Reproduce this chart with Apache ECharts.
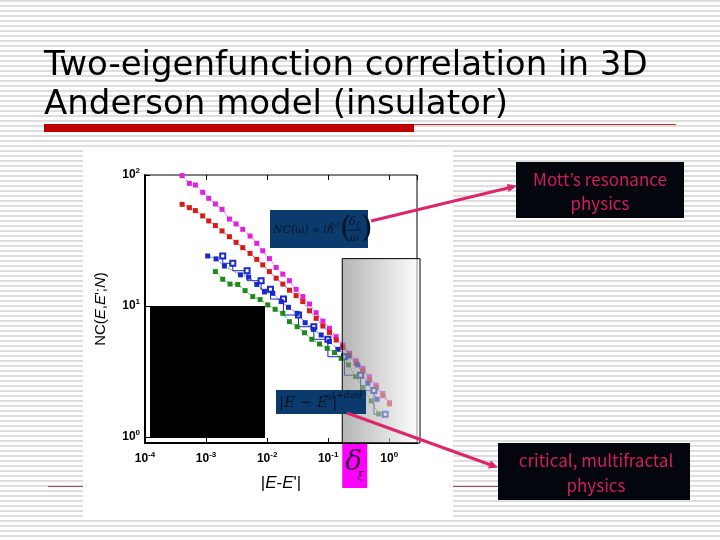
<!DOCTYPE html>
<html><head><meta charset="utf-8">
<script src="https://cdn.jsdelivr.net/npm/echarts@6/dist/echarts.min.js"></script>
<style>html,body{margin:0;padding:0;background:#fff}#c{width:720px;height:540px}</style>
</head><body><div id="c"></div>
<script>
// ---- data ----
const energyX = [4.05e-4, 5.33e-4, 6.68e-4, 8.81e-4, 1.107e-3, 1.422e-3, 1.828e-3, 2.415e-3, 3.105e-3, 3.99e-3, 5.26e-3, 6.78e-3, 8.49e-3, 0.01091, 0.01406, 0.01807, 0.02323, 0.02985, 0.03846, 0.04943, 0.06353, 0.08185, 0.1052, 0.1352, 0.1738, 0.2239, 0.2877, 0.3698, 0.4764, 0.6124, 0.787, 1.012];
const magentaY = [98.9, 86.3, 83.9, 73.8, 66.4, 60.1, 54.7, 46.1, 42.3, 38.5, 34.2, 30.1, 26.4, 23.0, 19.7, 17.5, 15.6, 13.4, 11.8, 10.35, 8.89, 7.67, 6.76, 5.83, 5.04, 4.36, 3.83, 3.34, 2.89, 2.49, 2.15, 1.83];
const redY = [59.7, 56.3, 53.5, 48.7, 44.6, 41.1, 37.4, 33.8, 30.6, 27.9, 25.2, 22.7, 20.6, 18.3, 16.3, 14.7, 13.2, 12.0, 10.8, 9.2, 8.05, 7.03, 6.29, 5.50, 4.83, 4.22, 3.65, 3.21, 2.72, 2.39, 2.07, 1.79];
const blueFilledX = [1.064e-3, 1.459e-3, 2.0e-3, 3.66e-3, 5.0e-3, 6.77e-3, 9.04e-3, 0.0124, 0.0170, 0.0224, 0.0310, 0.0420, 0.0575, 0.0768, 0.105, 0.144, 0.210, 0.306, 0.447, 0.635];
const blueFilledY = [24.1, 22.9, 20.2, 17.3, 16.6, 14.6, 12.8, 12.5, 10.8, 9.77, 8.79, 7.46, 6.63, 6.01, 5.35, 4.67, 4.15, 3.55, 2.57, 1.94];
const blueOpenX = [1.875e-3, 2.74e-3, 4.70e-3, 7.98e-3, 0.01135, 0.01853, 0.0327, 0.0582, 0.0989, 0.185, 0.339, 0.561, 0.859];
const blueOpenY = [24.1, 21.2, 18.6, 15.6, 13.4, 11.3, 8.53, 6.95, 5.57, 4.10, 2.96, 2.26, 1.49];
const greenX = [1.422e-3, 1.875e-3, 2.47e-3, 3.30e-3, 4.36e-3, 5.82e-3, 7.68e-3, 0.01025, 0.01352, 0.01807, 0.02323, 0.0310, 0.0409, 0.0540, 0.0721, 0.0964, 0.127, 0.163, 0.215, 0.281, 0.370, 0.507, 0.668];
const greenY = [18.3, 16.0, 14.7, 14.6, 13.1, 11.8, 11.2, 10.2, 9.44, 8.79, 7.59, 6.95, 6.25, 5.57, 5.13, 4.75, 4.41, 3.99, 3.55, 2.89, 2.39, 1.89, 1.50];
const deltaXi = 0.17;      // left edge of shaded crossover region
const shadeTop = 23;       // top of shaded region (NC value)
const xRange = [1e-4, 2.85];
const yRange = [0.9, 100];

const titleLines = ['Two-eigenfunction correlation in 3D', 'Anderson model (insulator)'];
const mottText = ['Mott\u2019s resonance', 'physics'];
const critText = ['critical, multifractal', 'physics'];

// ---- page ----
const zip = (xs, ys) => xs.map((x, i) => [x, ys[i]]);
const pat = document.createElement('canvas'); pat.width = 4; pat.height = 5;
const pc = pat.getContext('2d'); pc.fillStyle = '#ffffff'; pc.fillRect(0, 0, 4, 5);
pc.fillStyle = '#dedede'; pc.fillRect(0, 0, 4, 2);

const G = {left: 145, top: 175, width: 272, height: 268};
const tickFmt = v => {
  const e = Math.round(Math.log10(v));
  if (Math.abs(Math.log10(v) - e) > 1e-6) return '';
  return '{b|10}{s|' + e + '}';
};
const tickRich = {
  b: {fontFamily: 'Liberation Sans', fontSize: 12, fontWeight: 'bold', color: '#000'},
  s: {fontFamily: 'Liberation Sans', fontSize: 8, fontWeight: 'bold', color: '#000', padding: [0, 0, 8, 0]}
};
const mk = (name, data, color, extra) => Object.assign({
  type: 'line', name, data, symbol: 'rect', symbolSize: 5,
  itemStyle: {color}, lineStyle: {type: 'dotted', width: 1, color}, z: 3, animation: false
}, extra || {});

const chart = echarts.init(document.getElementById('c'), null, {renderer: 'canvas'});
const option = {
  animation: false,
  backgroundColor: {image: pat, repeat: 'repeat'},
  grid: {left: G.left, top: G.top, width: G.width, height: G.height, show: true, borderColor: '#000', borderWidth: 1, backgroundColor: 'transparent'},
  xAxis: [{
    type: 'log', logBase: 10, min: xRange[0], max: xRange[1],
    axisLine: {lineStyle: {color: '#000', width: 2}},
    axisTick: {inside: true, length: 5, lineStyle: {color: '#000'}},
    splitLine: {show: false},
    axisLabel: {formatter: tickFmt, rich: tickRich, margin: 8},
    name: '{n||}{i|E}{n|-}{i|E}{n|\'|}', nameLocation: 'middle', nameGap: 32,
    nameTextStyle: {rich: {n: {fontFamily: 'Liberation Sans', fontSize: 17, color: '#000'}, i: {fontFamily: 'Liberation Sans', fontSize: 17, fontStyle: 'italic', color: '#000'}}}
  }, {
    type: 'log', logBase: 10, min: xRange[0], max: xRange[1], position: 'top',
    axisLine: {show: false}, axisTick: {inside: true, length: 5, lineStyle: {color: '#000'}},
    axisLabel: {show: false}, splitLine: {show: false}
  }],
  yAxis: {
    type: 'log', logBase: 10, min: yRange[0], max: yRange[1],
    axisLine: {lineStyle: {color: '#000', width: 2}},
    axisTick: {inside: true, length: 5, lineStyle: {color: '#000'}},
    splitLine: {show: false},
    axisLabel: {formatter: tickFmt, rich: tickRich, margin: 5, showMinLabel: false},
    name: '{n|NC(}{i|E}{n|,}{i|E}{n|\';}{i|N}{n|)}', nameLocation: 'middle', nameRotate: 90, nameGap: 37,
    nameTextStyle: {rich: {n: {fontFamily: 'Liberation Sans', fontSize: 15, color: '#000'}, i: {fontFamily: 'Liberation Sans', fontSize: 15, fontStyle: 'italic', color: '#000'}}}
  },
  series: [
    mk('magenta', zip(energyX, magentaY), '#e020e0'),
    mk('red', zip(energyX, redY), '#d81a1a'),
    mk('blue open', zip(blueOpenX, blueOpenY), '#1a2ac8', {symbol: 'emptyRect', symbolSize: 5, step: 'start', lineStyle: {type: 'solid', width: 1, color: '#1a2ac8'}, itemStyle: {color: '#1a2ac8', borderWidth: 1}}),
    mk('blue', zip(blueFilledX, blueFilledY), '#1a2ac8'),
    mk('green', zip(greenX, greenY), '#1e8a1e')
  ]
};
chart.setOption(option);

const shadeL = chart.convertToPixel({xAxisIndex: 0}, deltaXi);
const shadeT = chart.convertToPixel({yAxisIndex: 0}, shadeTop);
const shadeR = G.left + G.width + 3, shadeB = G.top + G.height;
const PINK = '#e0246a', TXT = '#d41e5c', BOX = '#0b3a6c', BOXT = '#071428';
const CJK = '"Noto Sans CJK JP"';

const gfx = [
  {type: 'rect', shape: {x: 83, y: 150, width: 370, height: 368}, style: {fill: '#fff'}, z: -1},
  {type: 'line', shape: {x1: 48, y1: 486.5, x2: 690, y2: 486.5}, style: {stroke: '#a84848', lineWidth: 1}, z: -2},
  // title
  {type: 'text', x: 44, y: 66, style: {text: titleLines[0], font: '34px "DejaVu Sans"', fill: '#000', verticalAlign: 'middle'}, z: 5},
  {type: 'text', x: 44, y: 105, style: {text: titleLines[1], font: '34px "DejaVu Sans"', fill: '#000', verticalAlign: 'middle'}, z: 5},
  {type: 'rect', shape: {x: 44, y: 124, width: 370, height: 8}, style: {fill: '#c00000'}, z: 5},
  {type: 'line', shape: {x1: 414, y1: 124.5, x2: 676, y2: 124.5}, style: {stroke: '#c03030', lineWidth: 1}, z: 5},
  // black block
  {type: 'rect', shape: {x: 150, y: 306, width: 115, height: 132}, style: {fill: '#000'}, z: 6},
  // shaded region
  {type: 'rect', shape: {x: shadeL, y: shadeT, width: shadeR - shadeL, height: shadeB - shadeT},
   style: {fill: new echarts.graphic.LinearGradient(0, 0, 1, 0, [{offset: 0, color: 'rgba(130,130,130,0.6)'}, {offset: 1, color: 'rgba(255,255,255,0.6)'}]), stroke: '#000', lineWidth: 1}, z: 10},
  // delta_xi box
  {type: 'rect', shape: {x: shadeL, y: shadeB + 1, width: 25, height: 44}, style: {fill: '#ff00ff'}, z: 10},
  {type: 'text', x: shadeL + 3, y: shadeB + 20, style: {text: '\u03b4', font: 'italic 28px "DejaVu Serif"', fill: '#3a0a3a', verticalAlign: 'middle'}, z: 11},
  {type: 'text', x: shadeL + 15, y: shadeB + 34, style: {text: '\u03be', font: 'italic 11px "DejaVu Serif"', fill: '#3a0a3a', verticalAlign: 'middle'}, z: 11},
  // formula box 1
  {type: 'rect', shape: {x: 270, y: 210, width: 98, height: 38}, style: {fill: BOX}, z: 11},
  {type: 'text', x: 273, y: 230, style: {text: 'NC(\u03c9) \u221d ln', font: 'italic 11px "DejaVu Serif"', fill: BOXT, verticalAlign: 'middle'}, z: 12},
  {type: 'text', x: 329, y: 225, style: {text: 'd-1', font: 'italic 7px "DejaVu Serif"', fill: BOXT, verticalAlign: 'middle'}, z: 12},
  {type: 'text', x: 340, y: 229, style: {text: '(', font: '30px "DejaVu Serif"', fill: BOXT, verticalAlign: 'middle'}, z: 12},
  {type: 'text', x: 361, y: 229, style: {text: ')', font: '30px "DejaVu Serif"', fill: BOXT, verticalAlign: 'middle'}, z: 12},
  {type: 'text', x: 349, y: 222, style: {text: '\u03b4', font: 'italic 11px "DejaVu Serif"', fill: BOXT, verticalAlign: 'middle'}, z: 12},
  {type: 'text', x: 356, y: 225, style: {text: '\u03be', font: 'italic 7px "DejaVu Serif"', fill: BOXT, verticalAlign: 'middle'}, z: 12},
  {type: 'line', shape: {x1: 348, y1: 230, x2: 361, y2: 230}, style: {stroke: BOXT, lineWidth: 1}, z: 12},
  {type: 'text', x: 350, y: 238, style: {text: '\u03c9', font: 'italic 11px "DejaVu Serif"', fill: BOXT, verticalAlign: 'middle'}, z: 12},
  // formula box 2
  {type: 'rect', shape: {x: 276, y: 390, width: 90, height: 24}, style: {fill: BOX}, z: 11},
  {type: 'text', x: 279, y: 403, style: {text: '|E \u2212 E\'|', font: 'italic 15px "DejaVu Serif"', fill: BOXT, verticalAlign: 'middle'}, z: 12},
  {type: 'text', x: 323, y: 396, style: {text: '\u22121+d\u2082/d', font: 'italic 9px "DejaVu Serif"', fill: BOXT, verticalAlign: 'middle'}, z: 12},
  // arrows
  {type: 'line', shape: {x1: 371, y1: 221, x2: 510, y2: 187.5}, style: {stroke: PINK, lineWidth: 3}, z: 13},
  {type: 'polygon', shape: {points: [[517, 185.8], [508.6, 192], [507, 184]]}, style: {fill: PINK}, z: 13},
  {type: 'line', shape: {x1: 347, y1: 413, x2: 491, y2: 465}, style: {stroke: PINK, lineWidth: 3}, z: 13},
  {type: 'polygon', shape: {points: [[498, 467.5], [488, 468.5], [491, 460.5]]}, style: {fill: PINK}, z: 13},
  // callout boxes
  {type: 'rect', shape: {x: 516, y: 162, width: 168, height: 56}, style: {fill: '#03060c'}, z: 13},
  {type: 'text', x: 600, y: 180, style: {text: mottText[0], font: '17px ' + CJK, fill: TXT, align: 'center', verticalAlign: 'middle'}, z: 14},
  {type: 'text', x: 600, y: 204, style: {text: mottText[1], font: '17px ' + CJK, fill: TXT, align: 'center', verticalAlign: 'middle'}, z: 14},
  {type: 'rect', shape: {x: 498, y: 443, width: 192, height: 57}, style: {fill: '#03060c'}, z: 13},
  {type: 'text', x: 596, y: 461, style: {text: critText[0], font: '17px ' + CJK, fill: TXT, align: 'center', verticalAlign: 'middle'}, z: 14},
  {type: 'text', x: 596, y: 486, style: {text: critText[1], font: '17px ' + CJK, fill: TXT, align: 'center', verticalAlign: 'middle'}, z: 14}
];
chart.setOption({graphic: {elements: gfx}});
</script></body></html>
